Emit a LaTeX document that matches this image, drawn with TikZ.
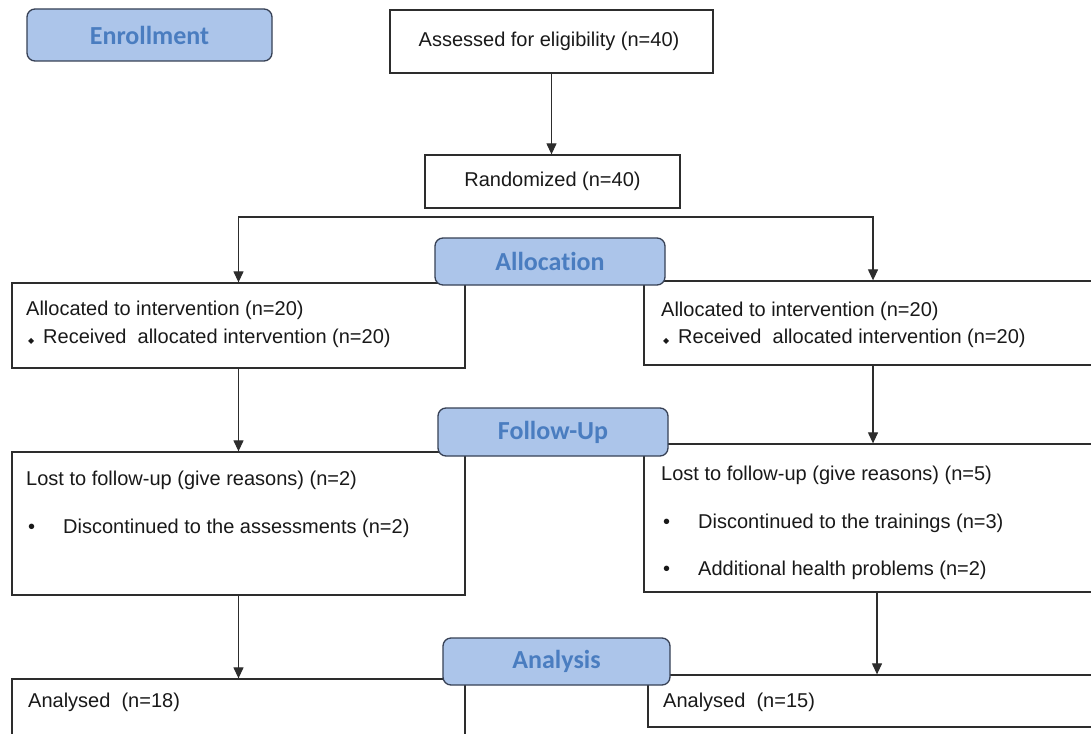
\documentclass[tikz,border=0pt]{standalone}
\usepackage{fontspec}
\setmainfont{Liberation Sans}
\newfontfamily\labfont[Ligatures={NoCommon}]{Carlito}
\newfontfamily\symfont{DejaVu Sans}
\usetikzlibrary{arrows.meta}
\definecolor{labfill}{RGB}{172,197,234}
\definecolor{labtext}{RGB}{74,125,192}
\definecolor{labdraw}{RGB}{55,65,85}
\definecolor{boxdraw}{RGB}{45,45,45}
\definecolor{txtcol}{RGB}{25,25,25}
\begin{document}
\begin{tikzpicture}[x=1pt,y=-1pt,
  box/.style={draw=boxdraw,line width=1.3pt,fill=white,inner sep=0pt},
  lab/.style={draw=labdraw,fill=labfill,rounded corners=8pt,line width=1.3pt,inner sep=0pt,
    font=\labfont\bfseries\fontsize{26}{30}\selectfont,text=labtext},
  txt/.style={anchor=west,inner sep=0pt,font=\fontsize{20}{24}\selectfont,text=txtcol},
  ctxt/.style={inner sep=0pt,font=\fontsize{20}{24}\selectfont,text=txtcol},
  arr/.style={-{Triangle[width=10pt,length=11pt]},line width=1.2pt,draw=boxdraw}]
\clip (0,0) rectangle (1091,733);
\fill[white] (0,0) rectangle (1091,733);
% boxes
\node[box,minimum width=323pt,minimum height=63pt] (assess) at (551.5,41.5) {};
\node[ctxt] (assesst) at (549,41.5) {Assessed for eligibility (n=40)};
\node[box,minimum width=255pt,minimum height=53pt] (rand) at (552.5,181.5) {};
\node[ctxt] (randt) at (552.5,181.5) {Randomized (n=40)};
\node[box,minimum width=453pt,minimum height=85pt] (a1) at (238.5,325.5) {};
\node[box,minimum width=458pt,minimum height=84pt] (a2) at (873,323) {};
\node[box,minimum width=453pt,minimum height=143pt] (f1) at (238.5,523.5) {};
\node[box,minimum width=458pt,minimum height=148pt] (f2) at (873,518) {};
\node[box,minimum width=453pt,minimum height=81pt] (an1) at (238.5,719.5) {};
\node[box,minimum width=458pt,minimum height=52pt] (an2) at (877,701) {};
% texts
\node[txt] (a1t1) at (26,310) {Allocated to intervention (n=20)};
\node[txt] (a1t2) at (28,338) {\makebox[15pt][l]{\symfont\fontsize{8}{8}\selectfont ◆}Received\ \ allocated intervention (n=20)};
\node[txt] (a2t1) at (661,311) {Allocated to intervention (n=20)};
\node[txt] (a2t2) at (663,338) {\makebox[15pt][l]{\symfont\fontsize{8}{8}\selectfont ◆}Received\ \ allocated intervention (n=20)};
\node[txt] (f1t1) at (26,480) {Lost to follow-up (give reasons) (n=2)};
\node[txt] (f1t2) at (28,528) {\makebox[35pt][l]{•}Discontinued to the assessments (n=2)};
\node[txt] (f2t1) at (661,475) {Lost to follow-up (give reasons) (n=5)};
\node[txt] (f2t2) at (663,523) {\makebox[35pt][l]{•}Discontinued to the trainings (n=3)};
\node[txt] (f2t3) at (663,570) {\makebox[35pt][l]{•}Additional health problems (n=2)};
\node[txt] (an1t) at (28,702) {Analysed\ \ (n=18)};
\node[txt] (an2t) at (663,702) {Analysed\ \ (n=15)};
% connectors
\coordinate (split) at (556,217);
\draw[arr] (assess.south) -- (assess.south |- rand.north);
\draw[arr] (split) -| (a1.north);
\draw[arr] (split) -| (a2.north);
\draw[arr] (a1.south) -- (f1.north);
\draw[arr] (a2.south) -- (f2.north);
\draw[arr] (f1.south) -- (an1.north);
\draw[arr] (f2.south -| an2.north) -- (an2.north);
% stage labels
\node[lab,minimum width=245pt,minimum height=52pt] (enr) at (149.5,35) {Enrollment};
\node[lab,minimum width=230pt,minimum height=47pt] (alloc) at (550,261.5) {Allocation};
\node[lab,minimum width=230pt,minimum height=48pt] (fu) at (553,432) {Follow-Up};
\node[lab,minimum width=227pt,minimum height=47pt] (ana) at (556.5,661.5) {Analysis};
\end{tikzpicture}
\end{document}
